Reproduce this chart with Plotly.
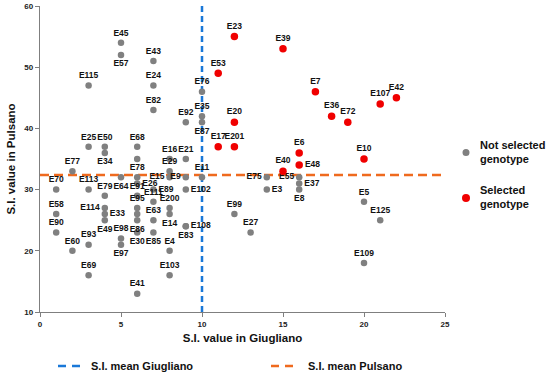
import plotly.graph_objects as go

# ---------------- data ----------------
ns_names = ["E45", "E57", "E43", "E115", "E24", "E82", "E25", "E50", "E34", "E68",
            "", "E77", "E70", "E113", "E64", "E78", "E26", "E79", "E91", "E89",
            "E111", "E16", "E29", "E15", "E21", "E9", "E102", "E11", "E92", "E35",
            "E87", "E76", "E58", "E90", "E60", "E93", "E69", "E114", "E33", "E49",
            "E98", "E97", "E95", "", "E86", "E30", "E63", "E85", "E41", "E200",
            "E14", "E4", "E103", "E83", "E108", "E99", "E27", "E75", "E3", "E55",
            "E37", "E8", "E5", "E125", "E109"]
ns_giugliano = [5, 5, 7, 3, 7, 7, 3, 4, 4, 6,
                6, 2, 1, 3, 5, 6, 6, 4, 6, 7,
                7, 8, 8, 8, 9, 9, 9, 10, 9, 10,
                10, 10, 1, 1, 2, 3, 3, 4, 4, 4,
                5, 5, 6, 6, 6, 6, 7, 7, 6, 8,
                8, 8, 8, 9, 9, 12, 13, 14, 14, 16,
                16, 16, 20, 21, 20]
ns_pulsano = [54, 52, 51, 47, 47, 43, 37, 37, 36, 37,
              35, 33, 30, 30, 32, 32, 31, 29, 29, 30,
              28, 35, 33, 32, 35, 32, 30, 32, 41, 42,
              41, 46, 26, 23, 20, 21, 16, 27, 26, 25,
              22, 21, 27, 26, 25, 23, 25, 23, 13, 27,
              26, 20, 16, 24, 24, 26, 23, 32, 30, 32,
              31, 30, 28, 25, 18]

sel_names = ["E23", "E39", "E53", "E7", "E42", "E107", "E36", "E72", "E20", "E17",
             "E201", "E6", "E10", "E48", "E40"]
sel_giugliano = [12, 15, 11, 17, 22, 21, 18, 19, 12, 11, 12, 16, 20, 16, 15]
sel_pulsano = [55, 53, 49, 46, 45, 44, 42, 41, 41, 37, 37, 36, 35, 34, 33]

mean_giugliano = 10.0
mean_pulsano = 32.4
x_range = [0, 25]
y_range = [10, 60]

series_labels = ["Not selected<br>genotype", "Selected<br>genotype"]
line_labels = ["S.I. mean Giugliano", "S.I. mean Pulsano"]

# ---------------- styling ----------------
FONT = "Arial, 'Liberation Sans', sans-serif"
GRAY = "#808080"
RED = "#f00000"
BLUE = "#1a78d8"
ORANGE = "#ef6a1e"
TXT = "#111111"

W, H = 550, 375
ML, MR, MT, MB = 40, 105, 6, 63
PW, PH = W - ML - MR, H - MT - MB


def px(xp):
    return (xp - ML) / PW


def py(yp):
    return (H - MB - yp) / PH


label_pos = {
    "E34": "bottom center", "E57": "bottom center", "E64": "bottom center",
    "E26": "middle right", "E114": "middle left", "E33": "middle right",
    "E49": "bottom center", "E97": "bottom center", "E86": "bottom center",
    "E30": "bottom center", "E89": "middle right", "E85": "bottom center",
    "E15": "middle left", "E14": "bottom center", "E9": "middle left",
    "E102": "middle right", "E83": "bottom center", "E108": "middle right",
    "E87": "bottom center", "E75": "middle left", "E3": "middle right",
    "E55": "middle left", "E37": "middle right", "E8": "bottom center",
    "E48": "middle right",
}


def positions(names):
    return [label_pos.get(n, "top center") for n in names]


fig = go.Figure()

fig.add_trace(go.Scatter(
    x=[mean_giugliano, mean_giugliano], y=y_range, mode="lines",
    name=line_labels[0], showlegend=False,
    line=dict(color=BLUE, width=2.5, dash="6px,4px"), hoverinfo="skip"))
fig.add_trace(go.Scatter(
    x=x_range, y=[mean_pulsano, mean_pulsano], mode="lines",
    name=line_labels[1], showlegend=False,
    line=dict(color=ORANGE, width=2.5, dash="9px,5px"), hoverinfo="skip"))

fig.add_trace(go.Scatter(
    x=ns_giugliano, y=ns_pulsano, mode="markers+text", text=ns_names,
    textposition=positions(ns_names),
    textfont=dict(family=FONT, size=8.5, color=TXT, weight="bold"),
    marker=dict(color=GRAY, size=6.5),
    name="Not selected genotype", showlegend=False, cliponaxis=False))
fig.add_trace(go.Scatter(
    x=sel_giugliano, y=sel_pulsano, mode="markers+text", text=sel_names,
    textposition=positions(sel_names),
    textfont=dict(family=FONT, size=8.5, color=TXT, weight="bold"),
    marker=dict(color=RED, size=7.5),
    name="Selected genotype", showlegend=False, cliponaxis=False))

# ---------- legends drawn in paper coordinates ----------
shapes = []
annotations = []

# right legend (markers)
for label, color, d, yc in [(series_labels[0], GRAY, 7, 152.5),
                            (series_labels[1], RED, 8, 198)]:
    shapes.append(dict(type="circle", xref="paper", yref="paper",
                       xsizemode="pixel", ysizemode="pixel",
                       xanchor=px(466), yanchor=py(yc),
                       x0=-d / 2, x1=d / 2, y0=-d / 2, y1=d / 2,
                       fillcolor=color, line=dict(width=0)))
    annotations.append(dict(text=label, xref="paper", yref="paper",
                            x=px(478), y=py(yc - 1), xanchor="left", yanchor="middle",
                            align="left", showarrow=False,
                            font=dict(family=FONT, size=11, color=TXT, weight="bold")))

# bottom legend (dashed lines)
for label, color, x0, x1, xt in [(line_labels[0], BLUE, 58, 80, 89),
                                 (line_labels[1], ORANGE, 271, 293, 306)]:
    shapes.append(dict(type="line", xref="paper", yref="paper",
                       x0=px(x0), x1=px(x1), y0=py(366), y1=py(366),
                       line=dict(color=color, width=2.5, dash="8px,6px")))
    annotations.append(dict(text=label, xref="paper", yref="paper",
                            x=px(xt), y=py(366), xanchor="left", yanchor="middle",
                            showarrow=False,
                            font=dict(family=FONT, size=11, color=TXT, weight="bold")))

axis_common = dict(
    showline=True, linecolor="#7f7f7f", linewidth=1.3,
    ticks="outside", ticklen=4, tickcolor="#7f7f7f", tickwidth=1.3,
    showgrid=False, zeroline=False, automargin=False,
    tickfont=dict(family=FONT, size=8, color="#222", weight="bold"),
)

fig.update_layout(
    width=W, height=H,
    margin=dict(l=ML, r=MR, t=MT, b=MB, autoexpand=False),
    paper_bgcolor="white", plot_bgcolor="white",
    font=dict(family=FONT, color=TXT),
    xaxis=dict(range=x_range, dtick=5, **axis_common,
               title=dict(text="S.I. value in Giugliano", standoff=6,
                          font=dict(family=FONT, size=11.5, color=TXT, weight="bold"))),
    yaxis=dict(range=y_range, dtick=10, **axis_common,
               title=dict(text="S.I. value in Pulsano", standoff=6,
                          font=dict(family=FONT, size=11.5, color=TXT, weight="bold"))),
    shapes=shapes,
    annotations=annotations,
    showlegend=False,
)

# remove the default page margin so the 550x375 figure fills the window exactly
fig.write_html("out.html",
               config={"displayModeBar": False},
               post_script="document.body.style.margin='0px';")
